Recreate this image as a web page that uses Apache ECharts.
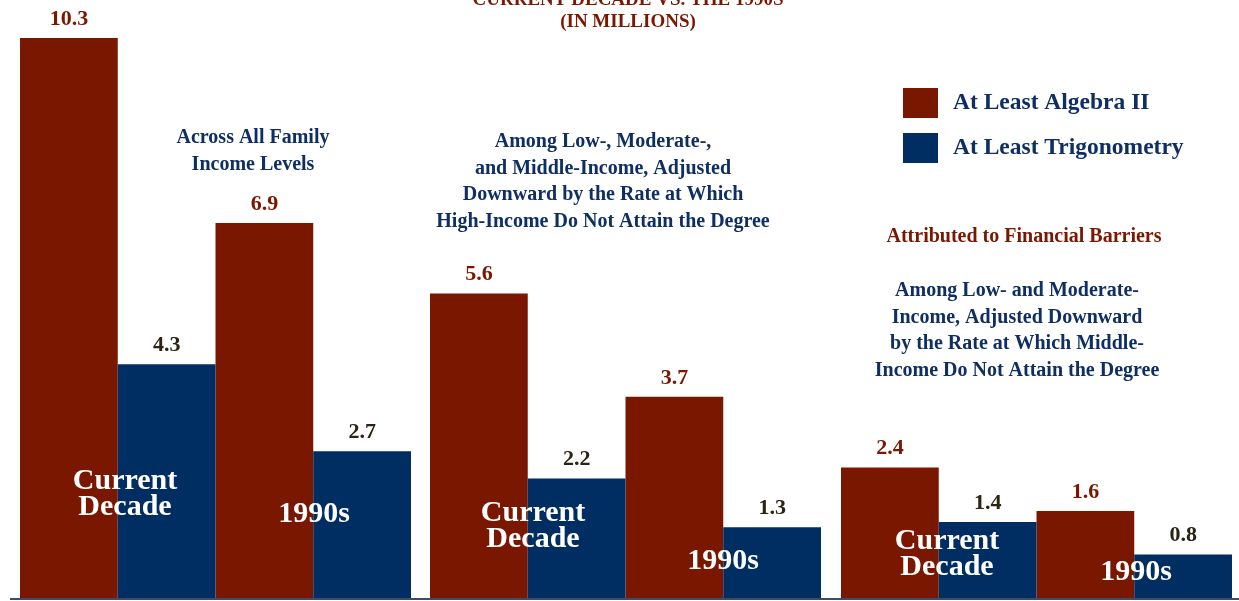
<!DOCTYPE html>
<html>
<head>
<meta charset="utf-8">
<script src="https://cdn.jsdelivr.net/npm/echarts@6/dist/echarts.min.js"></script>
<style>
  html, body { margin: 0; padding: 0; background: #fff; }
  #chart { width: 1239px; height: 601px; }
</style>
</head>
<body>
<div id="chart"></div>
<script>
// 数据
const categories = ['Current Decade', '1990s']
const seriesNames = ['At Least Algebra II', 'At Least Trigonometry']
// 三组：全部收入 / 低中收入调整 / 低收入调整
const algebraAll = [10.3, 6.9]
const trigAll = [4.3, 2.7]
const algebraLMM = [5.6, 3.7]
const trigLMM = [2.2, 1.3]
const algebraLM = [2.4, 1.6]
const trigLM = [1.4, 0.8]

const RED = '#7a1700'
const BLUE = '#002d62'
const TEXT_BLUE = '#0f2f63'
const FONT = '"Liberation Serif", "Times New Roman", serif'

let myChart = echarts.init(document.getElementById('chart'))

const groups = [
  { left: 20, a: algebraAll, t: trigAll },
  { left: 430, a: algebraLMM, t: trigLMM },
  { left: 841, a: algebraLM, t: trigLM }
]

const grid = groups.map(g => ({ left: g.left, width: 391, top: 0, bottom: 3 }))
const xAxis = groups.map((g, i) => ({
  type: 'category', gridIndex: i, data: categories,
  axisLine: { show: false }, axisTick: { show: false }, axisLabel: { show: false }
}))
const yAxis = groups.map((g, i) => ({
  type: 'value', gridIndex: i, min: 0, max: 11, show: false, splitLine: { show: false }
}))

const series = []
groups.forEach((g, i) => {
  series.push({
    name: seriesNames[0], type: 'bar', xAxisIndex: i, yAxisIndex: i,
    data: g.a, barGap: '0%', barCategoryGap: '0%',
    itemStyle: { color: RED },
    label: {
      show: true, position: 'top', distance: 8,
      fontFamily: FONT, fontWeight: 'bold', fontSize: 22, color: RED
    }
  })
  series.push({
    name: seriesNames[1], type: 'bar', xAxisIndex: i, yAxisIndex: i,
    data: g.t, barGap: '0%', barCategoryGap: '0%',
    itemStyle: { color: BLUE },
    label: {
      show: true, position: 'top', distance: 8,
      fontFamily: FONT, fontWeight: 'bold', fontSize: 22, color: '#2b2414'
    }
  })
})

function txt(x, y, text, size, color, lh) {
  return {
    type: 'text', x: x, y: y, z: 100,
    style: {
      text: text, fill: color, align: 'center', verticalAlign: 'middle',
      font: 'bold ' + size + 'px ' + FONT, lineHeight: lh || size
    }
  }
}

var option = {
  animation: false,
  grid: grid,
  xAxis: xAxis,
  yAxis: yAxis,
  legend: {
    orient: 'vertical', left: 898, top: 83,
    itemWidth: 35, itemHeight: 30, itemGap: 15,
    icon: 'rect',
    data: seriesNames,
    textStyle: {
      fontFamily: FONT, fontWeight: 'bold', fontSize: 23.5, color: TEXT_BLUE,
      padding: [0, 0, 0, 10]
    }
  },
  graphic: [
    txt(628, 0, 'CURRENT DECADE VS. THE 1990S', 19, RED),
    txt(628, 22, '(IN MILLIONS)', 19, RED),
    txt(253, 151, 'Across All Family\nIncome Levels', 20, TEXT_BLUE, 27),
    txt(603, 182, 'Among Low-, Moderate-,\nand Middle-Income, Adjusted\nDownward by the Rate at Which\nHigh-Income Do Not Attain the Degree', 20, TEXT_BLUE, 26.5),
    txt(1024, 237, 'Attributed to Financial Barriers', 20, RED),
    txt(1017, 331, 'Among Low- and Moderate-\nIncome, Adjusted Downward\nby the Rate at Which Middle-\nIncome Do Not Attain the Degree', 20, TEXT_BLUE, 26.5),
    txt(125, 494, 'Current\nDecade', 30, '#fff', 26),
    txt(314, 514, '1990s', 30, '#fff'),
    txt(533, 526, 'Current\nDecade', 30, '#fff', 26),
    txt(723, 561, '1990s', 30, '#fff'),
    txt(947, 554, 'Current\nDecade', 30, '#fff', 26),
    txt(1136, 572, '1990s', 30, '#fff'),
    {
      type: 'line', z: 100,
      shape: { x1: 10, y1: 599, x2: 1239, y2: 599 },
      style: { stroke: '#3c4d6b', lineWidth: 2 }
    }
  ],
  series: series
}
myChart.setOption(option)
</script>
</body>
</html>
